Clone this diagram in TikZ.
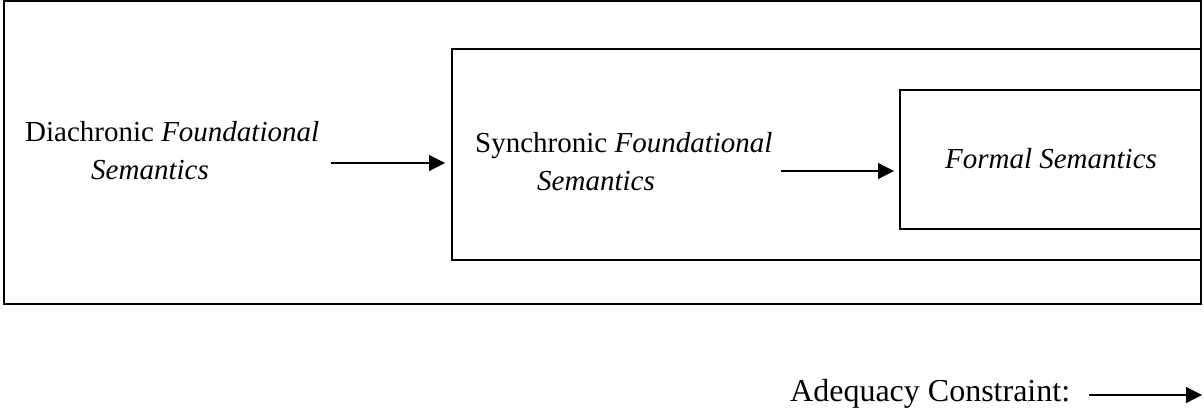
\documentclass[tikz,border=0pt]{standalone}
\usepackage{fontspec}
\setmainfont{Liberation Serif}
\usetikzlibrary{arrows.meta}
\begin{document}
\begin{tikzpicture}[x=1pt,y=-1pt,
  boxframe/.style={draw, line width=2pt, inner sep=0pt},
  txt/.style={inner sep=0pt, font=\fontsize{29}{38}\selectfont, align=left},
  flow/.style={line width=1.2pt, -{Triangle[length=16pt,width=16pt]}}]
\useasboundingbox (0,0) rectangle (1204,409);

% nested frames sharing the right edge
\node[boxframe, minimum width=1197pt, minimum height=302.5pt] (outer) at (602.5,152.75) {};
\node[boxframe, minimum width=749pt, minimum height=211pt] (mid) at (826.5,154.5) {};
\node[boxframe, minimum width=301pt, minimum height=139pt] (inner) at (1050.5,159.5) {};

% labels (base anchor sits on the last line)
\node[txt, anchor=base west] (dia) at (25,179)
  {Diachronic \textit{Foundational}\\\hspace*{66pt}\textit{Semantics}};
\node[txt, anchor=base west] (syn) at (475,190)
  {Synchronic \textit{Foundational}\\\hspace*{62pt}\textit{Semantics}};
\node[txt, anchor=base] (form) at (1051,168) {\textit{Formal Semantics}};

% arrows between the levels
\coordinate (a1) at (331,163);
\coordinate (a2) at (781,171);
\draw[flow] (a1) -- ([xshift=-6pt]mid.west |- a1);
\draw[flow] (a2) -- ([xshift=-5pt]inner.west |- a2);

% legend
\node[inner sep=0pt, font=\fontsize{32}{38}\selectfont, anchor=base west] (adq) at (790,401) {Adequacy Constraint:};
\coordinate (c1) at (1089,395);
\coordinate (c2) at (1202,395);
\draw[flow] (c1) -- (c2);
\end{tikzpicture}
\end{document}
